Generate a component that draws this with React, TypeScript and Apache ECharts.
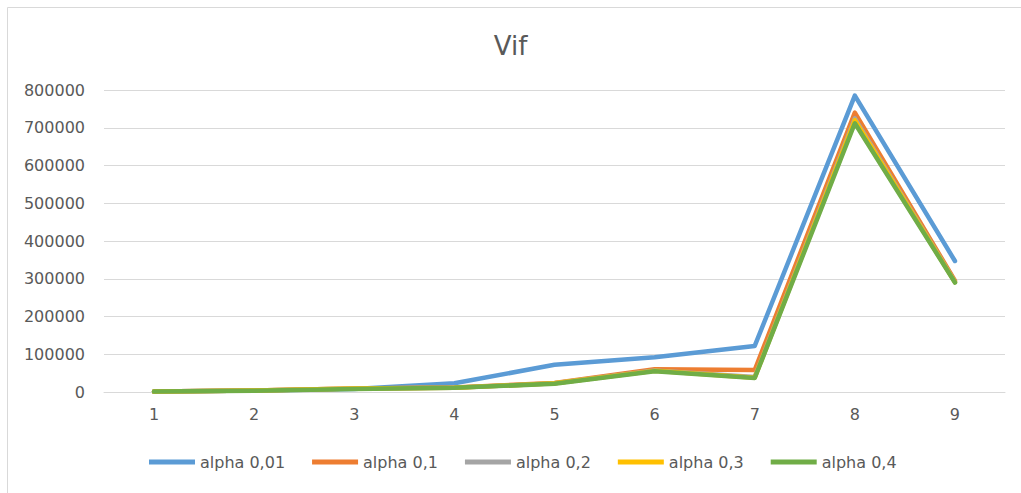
import React, { useEffect, useRef } from "react";
import * as echarts from "echarts";

const categories = ["1", "2", "3", "4", "5", "6", "7", "8", "9"];
const alpha001 = [1000, 4000, 8000, 23000, 72000, 92000, 122000, 785000, 347000];
const alpha01 = [1000, 4000, 9000, 12000, 24000, 60000, 58000, 740000, 295000];
const alpha02 = [1000, 4000, 9000, 11000, 23000, 57000, 40000, 725000, 292000];
const alpha03 = [1000, 4000, 9000, 11000, 23000, 56000, 38000, 720000, 291000];
const alpha04 = [1000, 3500, 8000, 11000, 22000, 55000, 37000, 712000, 290000];

const seriesNames = ["alpha 0,01", "alpha 0,1", "alpha 0,2", "alpha 0,3", "alpha 0,4"];
const seriesData = [alpha001, alpha01, alpha02, alpha03, alpha04];
const colors = ["#5B9BD5", "#ED7D31", "#A5A5A5", "#FFC000", "#70AD47"];

const FONT = "DejaVu Sans";
const TEXT = "#595959";

export default function App() {
  const ref = useRef<HTMLDivElement>(null);
  useEffect(() => {
    if (!ref.current) return;
    const chart = echarts.init(ref.current, null, { renderer: "svg" });
    chart.setOption({
      animation: false,
      backgroundColor: "#ffffff",
      color: colors,
      title: {
        text: "Vif",
        left: "center",
        top: 28,
        textStyle: { fontFamily: FONT, fontSize: 26, fontWeight: "normal", color: TEXT },
      },
      graphic: [
        {
          type: "rect",
          shape: { x: 7.5, y: 7.5, width: 1100, height: 600 },
          style: { fill: "none", stroke: "#d9d9d9", lineWidth: 1 },
          silent: true,
        },
      ],
      legend: {
        bottom: 18,
        left: 144,
        icon: "rect",
        itemWidth: 46,
        itemHeight: 5,
        itemGap: 27,
        textStyle: { fontFamily: FONT, fontSize: 16, color: TEXT },
        data: seriesNames,
      },
      grid: { left: 104, right: 16, top: 90, bottom: 101, containLabel: false },
      xAxis: {
        type: "category",
        data: categories,
        boundaryGap: true,
        axisLine: { show: true, lineStyle: { color: "#d9d9d9", width: 1 } },
        axisTick: { show: false },
        axisLabel: { fontFamily: FONT, fontSize: 16, color: TEXT, margin: 14 },
      },
      yAxis: {
        type: "value",
        min: 0,
        max: 800000,
        interval: 100000,
        axisLine: { show: false },
        axisTick: { show: false },
        axisLabel: {
          fontFamily: FONT,
          fontSize: 16,
          color: TEXT,
          margin: 19,
          formatter: (v: number) => String(v),
        },
        splitLine: { lineStyle: { color: "#d9d9d9", width: 1 } },
      },
      series: seriesNames.map((name, i) => ({
        name,
        type: "line",
        data: seriesData[i],
        symbol: "none",
        lineStyle: { width: 4.5, color: colors[i], cap: "round", join: "round" },
        itemStyle: { color: colors[i] },
      })),
    });
    return () => chart.dispose();
  }, []);
  return (
    <div
      ref={ref}
      style={{ position: "fixed", left: 0, top: 0, width: 1021, height: 493 }}
    />
  );
}
